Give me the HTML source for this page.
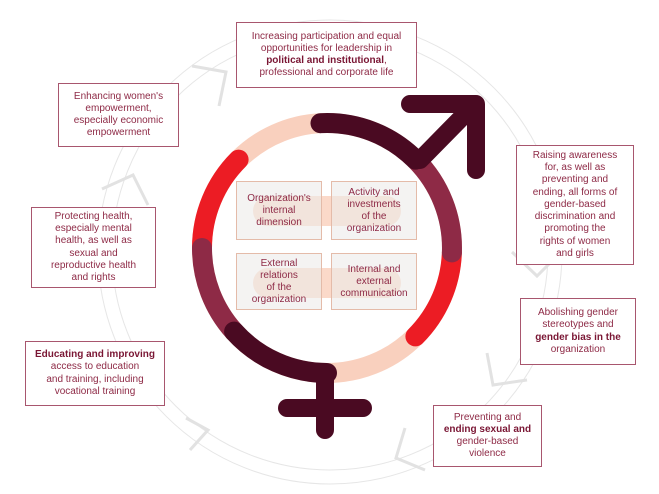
<!DOCTYPE html>
<html><head><meta charset="utf-8"><style>
body{margin:0;width:659px;height:494px;background:#fff;position:relative;overflow:hidden;font-family:"Liberation Sans",sans-serif}
.b{position:absolute;border:1px solid #a8566e;background:#fff;color:#8e2a46;font-size:10px;line-height:12.2px;text-align:center;box-sizing:border-box;display:flex;align-items:center;justify-content:center}
.i{position:absolute;border:1px solid #e4bba9;background:rgba(236,235,233,0.6);color:#8e2a46;font-size:10px;line-height:12px;text-align:center;box-sizing:border-box;display:flex;align-items:center;justify-content:center}
b{color:#7a1634}
svg{position:absolute;left:0;top:0}
</style></head><body>
<svg width="659" height="494">
<g fill="none" stroke="#e6e6e6" stroke-width="1">
<circle cx="330" cy="252" r="218"/>
<circle cx="330" cy="252" r="232"/>
</g>
<g fill="none" stroke="#e2e2e2" stroke-width="3">
<polyline points="192,66 226,72 219,106"/>
<polyline points="102,189 133,175 148,205"/>
<polyline points="512,252 537,276 560,253"/>
<polyline points="487,353 493,385 527,380"/>
<polyline points="405,428 396,458 425,470"/>
<polyline points="186,418 208,430 190,450"/>
</g>
<circle cx="327" cy="248" r="125" fill="none" stroke="#f9d0be" stroke-width="20"/>
<g fill="none" stroke-width="20" stroke-linecap="round">
<path d="M451.9,252.4 A125,125 0 0 1 415.4,336.4" stroke="#ec1c24"/>
<path d="M202,248 A125,125 0 0 1 238.6,159.6" stroke="#ec1c24"/>
<path d="M415.4,159.6 A125,125 0 0 1 451.9,252.4" stroke="#8e2a46"/>
<path d="M234.1,331.6 A125,125 0 0 1 202,248" stroke="#8e2a46"/>
<path d="M320.5,123.2 A125,125 0 0 1 415.4,159.6" stroke="#4a0a22"/>
<path d="M327,373 A125,125 0 0 1 234.1,331.6" stroke="#4a0a22"/>
</g>
<g stroke="#4a0a22" stroke-width="18" stroke-linecap="round" stroke-linejoin="round" fill="none">
<line x1="420" y1="160" x2="474" y2="105"/>
<polyline points="410,104 476,104 476,170"/>
<line x1="325" y1="380" x2="325" y2="430"/>
<line x1="287" y1="408" x2="363" y2="408"/>
</g>
<rect x="253" y="196" width="148" height="30" rx="15" fill="#fbd9c9"/>
<rect x="253" y="268" width="148" height="30" rx="15" fill="#fbd9c9"/>
</svg>
<div class="i" style="left:236px;top:181px;width:86px;height:59px">Organization's<br>internal<br>dimension</div>
<div class="i" style="left:331px;top:181px;width:86px;height:59px">Activity and<br>investments<br>of the<br>organization</div>
<div class="i" style="left:236px;top:253px;width:86px;height:57px">External<br>relations<br>of the<br>organization</div>
<div class="i" style="left:331px;top:253px;width:86px;height:57px">Internal and<br>external<br>communication</div>
<div class="b" style="left:236px;top:22px;width:181px;height:66px"><span>Increasing participation and equal<br>opportunities for leadership in<br><b>political and institutional</b>,<br>professional and corporate life</span></div>
<div class="b" style="left:58px;top:83px;width:121px;height:64px"><span>Enhancing women's<br>empowerment,<br>especially economic<br>empowerment</span></div>
<div class="b" style="left:31px;top:207px;width:125px;height:81px"><span>Protecting health,<br>especially mental<br>health, as well as<br>sexual and<br>reproductive health<br>and rights</span></div>
<div class="b" style="left:25px;top:341px;width:140px;height:65px"><span><b>Educating and improving</b><br>access to education<br>and training, including<br>vocational training</span></div>
<div class="b" style="left:516px;top:145px;width:118px;height:120px"><span>Raising awareness<br>for, as well as<br>preventing and<br>ending, all forms of<br>gender-based<br>discrimination and<br>promoting the<br>rights of women<br>and girls</span></div>
<div class="b" style="left:520px;top:298px;width:116px;height:67px"><span>Abolishing gender<br>stereotypes and<br><b>gender bias in the</b><br>organization</span></div>
<div class="b" style="left:433px;top:405px;width:109px;height:62px"><span>Preventing and<br><b>ending sexual and</b><br>gender-based<br>violence</span></div>
</body></html>
